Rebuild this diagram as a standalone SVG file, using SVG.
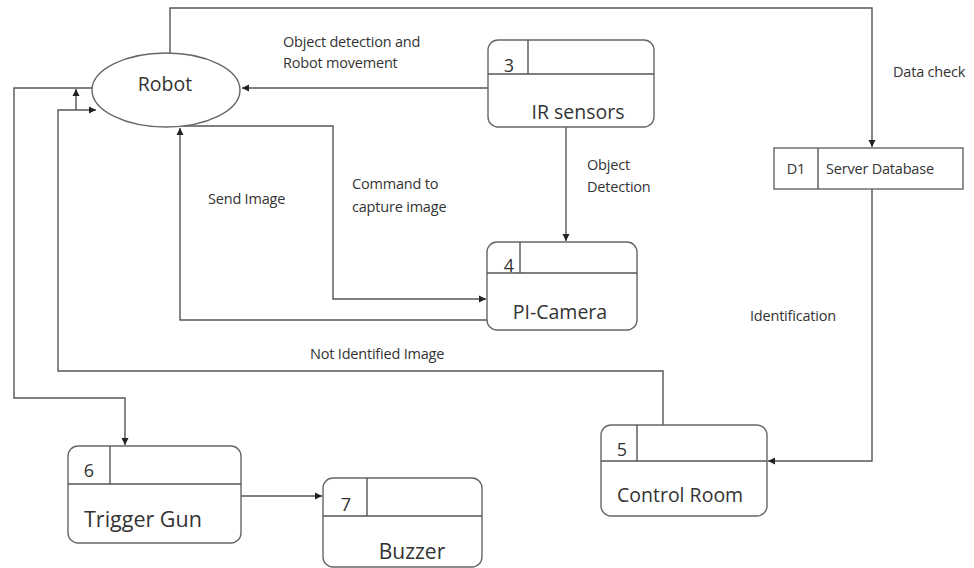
<svg xmlns="http://www.w3.org/2000/svg" width="974" height="568" viewBox="0 0 974 568">
<defs>
<marker id="ah" markerWidth="8" markerHeight="8" refX="7" refY="4" orient="auto" markerUnits="userSpaceOnUse">
<path d="M0,0.5 L7,4 L0,7.5 Z" fill="#222"/>
</marker>
<style>
.ln{fill:none;stroke:#555;stroke-width:1.4}
.bx{fill:#fff;stroke:#666;stroke-width:1.4}
.t{font-family:"Open Sans","Liberation Sans",sans-serif;fill:#333}
.s{font-size:14.5px;letter-spacing:-0.2px}
.n{font-size:18px}
.l{font-size:19.5px}
</style>
</defs>
<rect width="974" height="568" fill="#fff"/>
<g id="connectors">
<path class="ln" d="M170,53 V8 H872 V147" marker-end="url(#ah)"/>
<path class="ln" d="M92,88 H14 V398 H125 V445" marker-end="url(#ah)"/>
<path class="ln" d="M663,425 V371 H58 V110 H96" marker-end="url(#ah)"/>
<path class="ln" d="M76,110 V89" marker-end="url(#ah)"/>
<path class="ln" d="M488,88 H242" marker-end="url(#ah)"/>
<path class="ln" d="M183,126 H333 V299 H486" marker-end="url(#ah)"/>
<path class="ln" d="M487,320 H180 V128" marker-end="url(#ah)"/>
<path class="ln" d="M566,127 V241" marker-end="url(#ah)"/>
<path class="ln" d="M872,189 V461 H768" marker-end="url(#ah)"/>
<path class="ln" d="M241,496 H322" marker-end="url(#ah)"/>
</g>
<g id="robot">
<ellipse class="bx" cx="166" cy="90" rx="74" ry="37"/>
<text class="t l" x="165" y="91" text-anchor="middle">Robot</text>
</g>
<g id="ir">
<rect class="bx" x="488" y="40" width="166" height="87" rx="10"/>
<path class="ln" d="M488,74 H654 M528,40 V74"/>
<text class="t n" x="509" y="72" text-anchor="middle">3</text>
<text class="t l" x="578" y="119" text-anchor="middle">IR sensors</text>
</g>
<g id="picam">
<rect class="bx" x="487" y="242" width="150" height="88" rx="10"/>
<path class="ln" d="M487,273 H637 M520,242 V273"/>
<text class="t n" x="509" y="272" text-anchor="middle">4</text>
<text class="t l" x="560" y="319" text-anchor="middle">PI-Camera</text>
</g>
<g id="db">
<rect class="bx" x="774" y="148" width="189" height="41"/>
<path class="ln" d="M818,148 V189"/>
<text class="t s" x="796" y="174" text-anchor="middle">D1</text>
<text class="t s" x="826" y="174">Server Database</text>
</g>
<g id="control">
<rect class="bx" x="601" y="425" width="166" height="91" rx="10"/>
<path class="ln" d="M601,461 H767 M637,425 V461"/>
<text class="t n" x="622" y="456" text-anchor="middle">5</text>
<text class="t l" x="617" y="502">Control Room</text>
</g>
<g id="trigger">
<rect class="bx" x="68" y="446" width="173" height="97" rx="10"/>
<path class="ln" d="M68,484 H241 M110,446 V484"/>
<text class="t n" x="89" y="477" text-anchor="middle">6</text>
<text class="t" style="font-size:21.5px" x="84" y="527">Trigger Gun</text>
</g>
<g id="buzzer">
<rect class="bx" x="323" y="478" width="159" height="89" rx="10"/>
<path class="ln" d="M323,516 H482 M367,478 V516"/>
<text class="t n" x="346" y="511" text-anchor="middle">7</text>
<text class="t" style="font-size:21px" x="412" y="559" text-anchor="middle">Buzzer</text>
</g>
<g id="labels">
<text class="t s" x="283" y="47">Object detection and</text>
<text class="t s" x="283" y="68">Robot movement</text>
<text class="t s" x="893" y="77">Data check</text>
<text class="t s" x="208" y="204">Send Image</text>
<text class="t s" x="352" y="189">Command to</text>
<text class="t s" x="352" y="212">capture image</text>
<text class="t s" x="587" y="170">Object</text>
<text class="t s" x="587" y="192">Detection</text>
<text class="t s" x="750" y="321">Identification</text>
<text class="t s" x="310" y="359">Not Identified Image</text>
</g>
</svg>
